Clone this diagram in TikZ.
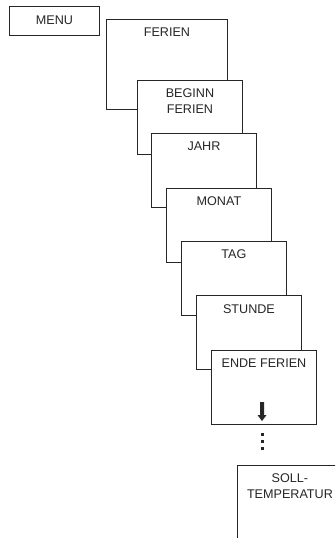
\documentclass[tikz,border=0pt]{standalone}
\usepackage{fontspec}
\setmainfont{Liberation Sans}
\begin{document}
\begin{tikzpicture}[x=1pt,y=-1pt,
  frame/.style={draw=black!85, line width=0.9pt, fill=white, rectangle, inner sep=0pt, anchor=north west, minimum width=105pt, minimum height=74pt},
  lbl/.style={font=\fontsize{12.6}{16}\selectfont, align=center, inner sep=0pt, anchor=north, text=black!85},
  ink/.style={fill=black!85}]
\useasboundingbox (0,0) rectangle (335,538);
\clip (0,0) rectangle (335,538);
\node[frame, minimum width=90pt, minimum height=29pt] (menu) at (9,6) {};
\node[lbl] (menut) at ([yshift=-10pt]menu.north) {MENU};
\node[frame, minimum width=121pt, minimum height=90pt] (ferien) at (106,19) {};
\node[lbl] (ferient) at ([yshift=-9pt]ferien.north) {FERIEN};
\node[frame] (beginn) at (137,80) {};
\node[lbl] (beginnt) at ([yshift=-8.5pt]beginn.north) {BEGINN\\FERIEN};
\node[frame] (jahr) at (151,133) {};
\node[lbl] (jahrt) at ([yshift=-8.5pt]jahr.north) {JAHR};
\node[frame] (monat) at (166,188) {};
\node[lbl] (monatt) at ([yshift=-8.5pt]monat.north) {MONAT};
\node[frame] (tag) at (181,241) {};
\node[lbl] (tagt) at ([yshift=-8.5pt]tag.north) {TAG};
\node[frame] (stunde) at (196,295) {};
\node[lbl] (stundet) at ([yshift=-9pt]stunde.north) {STUNDE};
\node[frame] (ende) at (211,350) {};
\node[lbl] (endet) at ([yshift=-8.5pt]ende.north) {ENDE FERIEN};
\fill[ink] (260,402) -- (264,402) -- (264,415) -- (266.5,415) -- (262,421) -- (257.5,415) -- (260,415) -- cycle;
\foreach \yy in {434,441,448} \fill[ink] (260.5,\yy-1.5) rectangle (263.5,\yy+1.5);
\node[frame] (soll) at (237,465) {};
\node[lbl] (sollt) at ([yshift=-8.5pt]soll.north) {SOLL-\\TEMPERATUR};
\end{tikzpicture}
\end{document}
